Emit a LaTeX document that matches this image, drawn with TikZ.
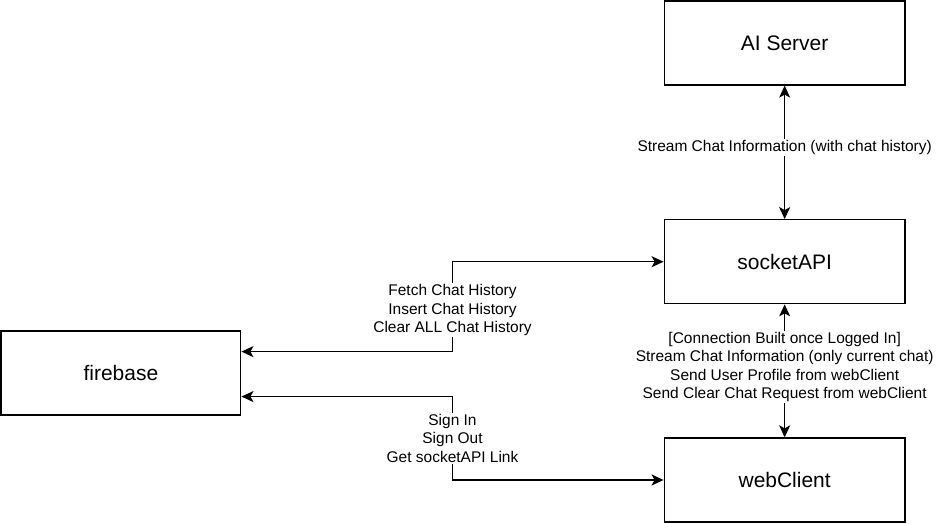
\documentclass[tikz,border=0pt]{standalone}
\usepackage{fontspec}
\setmainfont{Liberation Sans}
\usepackage{tikz}
\usetikzlibrary{arrows.meta}

\begin{document}
\begin{tikzpicture}[x=1pt,y=-1pt,line width=1.4pt,
    box/.style={draw,minimum width=241pt,minimum height=84pt,inner sep=0pt,
      font=\fontsize{21}{25}\selectfont},
    lbl/.style={fill=white,align=center,inner sep=1pt,
      font=\fontsize{15.5}{18.6}\selectfont},
    tip/.tip={Stealth[length=12pt,width=11pt,inset=3pt]},
    link/.style={tip-tip}]
      \useasboundingbox (-1,0) rectangle (936,524);
      \node[box] (ai) at (784.5,43) {AI Server};
      \node[box] (api) at (784.5,262) {socketAPI};
      \node[box] (client) at (784.5,480.5) {webClient};
      \node[box,minimum width=240pt] (fb) at (120,373.5) {firebase};
      \draw[link] (ai) -- node[lbl,pos=0.463] {Stream Chat Information (with chat history)} (api);
      \draw[link] (api) -- node[lbl,pos=0.47] {[Connection Built once Logged In]\\Stream Chat Information (only current chat)\\Send User Profile from webClient\\Send Clear Chat Request from webClient} (client);
      \draw[link] (api.west) -- (452,262) -- node[lbl,pos=0.54] {Fetch Chat History\\Insert Chat History\\Clear ALL Chat History} (452,352) -- ([yshift=21.5pt]fb.east);
      \draw[link] ([yshift=-23.5pt]fb.east) -- (452,397) -- node[lbl] {Sign In\\Sign Out\\Get socketAPI Link} (452,480.5) -- (client.west);
    \end{tikzpicture}
\end{document}
